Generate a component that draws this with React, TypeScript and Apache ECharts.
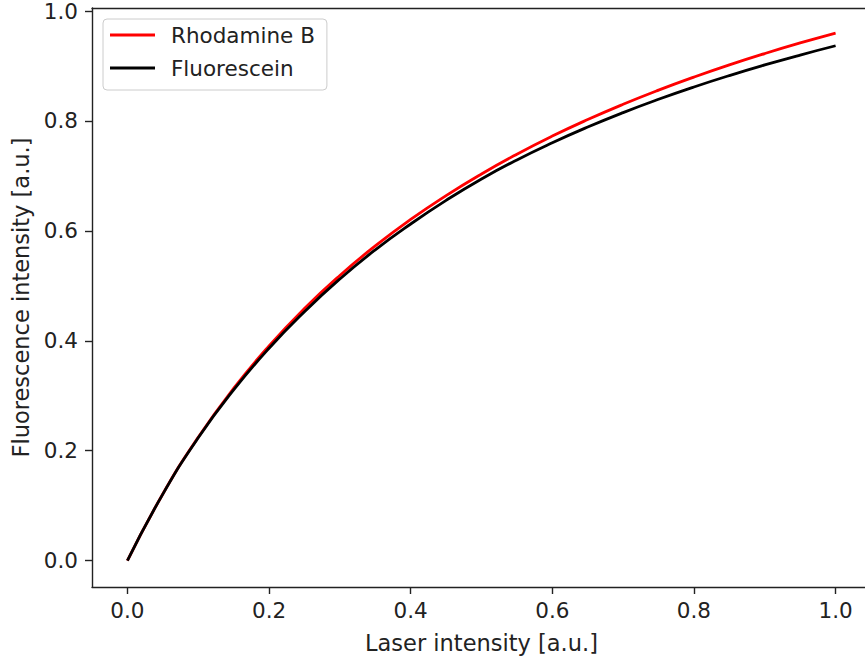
import React, { useEffect, useRef } from "react";
import * as echarts from "echarts";

const laserIntensity = [0, 0.05, 0.1, 0.15, 0.2, 0.25, 0.3, 0.35, 0.4, 0.45, 0.5, 0.55, 0.6, 0.65, 0.7, 0.75, 0.8, 0.85, 0.9, 0.95, 1.0];
const rhodamineB = [0, 0.1212, 0.2244, 0.3133, 0.3907, 0.4587, 0.5189, 0.5726, 0.6208, 0.6642, 0.7036, 0.7395, 0.7724, 0.8025, 0.8303, 0.856, 0.8798, 0.902, 0.9226, 0.9419, 0.9599];
const fluorescein = [0, 0.121, 0.2235, 0.3105, 0.3865, 0.453, 0.5125, 0.5655, 0.6125, 0.6555, 0.6945, 0.7291, 0.7603, 0.7889, 0.8152, 0.8394, 0.8618, 0.8826, 0.9019, 0.9199, 0.9368];
const xTicks = [0, 0.2, 0.4, 0.6, 0.8, 1.0];
const yTicks = [0, 0.2, 0.4, 0.6, 0.8, 1.0];

const FONT = "DejaVu Sans";
const INK = "#222222";

export default function App() {
  const ref = useRef<HTMLDivElement>(null);
  useEffect(() => {
    if (!ref.current) return;
    const chart = echarts.init(ref.current, undefined, { renderer: "svg" });
    const toPairs = (ys: number[]) => laserIntensity.map((x, i) => [x, ys[i]]);
    chart.setOption({
      animation: false,
      backgroundColor: "#ffffff",
      textStyle: { fontFamily: FONT },
      grid: { left: 92, top: 8, width: 779, height: 579, containLabel: false },
      legend: {
        orient: "vertical",
        left: 103,
        top: 19,
        padding: [5, 12, 11, 7],
        itemGap: 11,
        itemWidth: 45,
        itemHeight: 2.8,
        icon: "rect",
        backgroundColor: "rgba(255,255,255,0.8)",
        borderColor: "#cccccc",
        borderWidth: 1,
        borderRadius: 4,
        textStyle: { fontFamily: FONT, fontSize: 21.5, color: INK, lineHeight: 22, padding: [0, 0, 0, 11] },
        data: ["Rhodamine B", "Fluorescein"],
      },
      xAxis: [
        {
          type: "value",
          min: -0.05,
          max: 1.05,
          name: "Laser intensity [a.u.]",
          nameLocation: "middle",
          nameGap: 44,
          nameTextStyle: { fontFamily: FONT, fontSize: 22.5, color: INK },
          splitLine: { show: false },
          axisLine: { show: true, onZero: false, lineStyle: { color: INK, width: 1.4 } },
          axisTick: { show: true, inside: false, length: 7, customValues: xTicks, lineStyle: { color: INK, width: 1.4 } },
          axisLabel: {
            customValues: xTicks,
            margin: 12,
            fontFamily: FONT,
            fontSize: 21.5,
            color: INK,
            formatter: (v: number) => v.toFixed(1),
          },
        },
        {
          type: "value",
          position: "top",
          min: -0.05,
          max: 1.05,
          splitLine: { show: false },
          axisLine: { show: true, onZero: false, lineStyle: { color: INK, width: 1.4 } },
          axisTick: { show: false },
          axisLabel: { show: false },
        },
      ],
      yAxis: [
        {
          type: "value",
          min: -0.048,
          max: 1.0055,
          name: "Fluorescence intensity [a.u.]",
          nameLocation: "middle",
          nameGap: 60,
          nameRotate: 90,
          nameTextStyle: { fontFamily: FONT, fontSize: 22.5, color: INK },
          splitLine: { show: false },
          axisLine: { show: true, onZero: false, lineStyle: { color: INK, width: 1.4 } },
          axisTick: { show: true, inside: false, length: 7, customValues: yTicks, lineStyle: { color: INK, width: 1.4 } },
          axisLabel: {
            customValues: yTicks,
            margin: 14,
            fontFamily: FONT,
            fontSize: 21.5,
            color: INK,
            formatter: (v: number) => v.toFixed(1),
          },
        },
        {
          type: "value",
          position: "right",
          min: -0.048,
          max: 1.0055,
          splitLine: { show: false },
          axisLine: { show: true, onZero: false, lineStyle: { color: INK, width: 1.4 } },
          axisTick: { show: false },
          axisLabel: { show: false },
        },
      ],
      series: [
        {
          name: "Rhodamine B",
          type: "line",
          data: toPairs(rhodamineB),
          smooth: true,
          showSymbol: false,
          symbol: "none",
          lineStyle: { color: "#ff0000", width: 2.8 },
          itemStyle: { color: "#ff0000" },
        },
        {
          name: "Fluorescein",
          type: "line",
          data: toPairs(fluorescein),
          smooth: true,
          showSymbol: false,
          symbol: "none",
          lineStyle: { color: "#000000", width: 2.8 },
          itemStyle: { color: "#000000" },
        },
      ],
    });
    return () => chart.dispose();
  }, []);
  return <div ref={ref} style={{ position: "fixed", left: 0, top: 0, width: 885, height: 661, background: "#fff" }} />;
}
